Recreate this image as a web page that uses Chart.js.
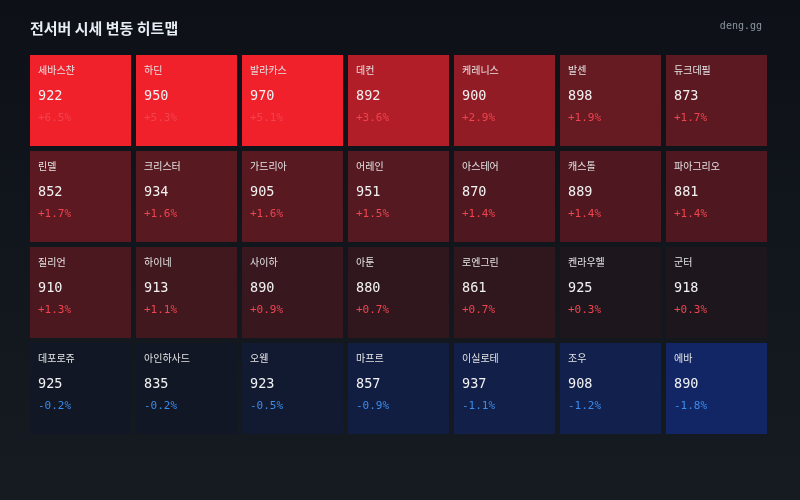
<!DOCTYPE html>
<html lang="ko">
<head>
<meta charset="utf-8">
<title>전서버 시세 변동 히트맵</title>
<script src="https://cdn.jsdelivr.net/npm/chart.js@4.4.1/dist/chart.umd.min.js"></script>
<style>
  html, body { margin: 0; padding: 0; }
  body { width: 800px; height: 500px; background: linear-gradient(180deg, #0d1117 0%, #161b22 100%); overflow: hidden; }
  .wrap { position: relative; width: 800px; height: 500px; }
</style>
</head>
<body>
<div class="wrap"><canvas id="heat"></canvas></div>
<script>
// columns per row in the grid
const columns = ['1', '2', '3', '4', '5', '6', '7'];

const servers = [
  '세바스챤', '하딘', '발라카스', '데컨', '케레니스', '발센', '듀크데필',
  '린델', '크리스터', '가드리아', '어레인', '아스테어', '캐스톨', '파아그리오',
  '질리언', '하이네', '사이하', '아툰', '로엔그린', '켄라우헬', '군터',
  '데포로쥬', '아인하사드', '오웬', '마프르', '이실로테', '조우', '에바'
];

const prices = [
  922, 950, 970, 892, 900, 898, 873,
  852, 934, 905, 951, 870, 889, 881,
  910, 913, 890, 880, 861, 925, 918,
  925, 835, 923, 857, 937, 908, 890
];

const changes = [
  6.5, 5.3, 5.1, 3.6, 2.9, 1.9, 1.7,
  1.7, 1.6, 1.6, 1.5, 1.4, 1.4, 1.4,
  1.3, 1.1, 0.9, 0.7, 0.7, 0.3, 0.3,
  -0.2, -0.2, -0.5, -0.9, -1.1, -1.2, -1.8
];

const rowCount = Math.ceil(servers.length / columns.length);

// colour scale: dark base -> red for gains, -> blue for losses
const base = [17, 21, 28];
const red = [240, 33, 43];
const blue = [18, 40, 110];
const mix = (a, b, t) => 'rgb(' + a.map((v, i) => Math.round(v + (b[i] - v) * t)).join(',') + ')';
const cellColor = (c) => c >= 0 ? mix(base, red, Math.min(c / 5, 1)) : mix(base, blue, Math.min(-c / 2, 1));

const datasets = [];
for (let r = 0; r < rowCount; r++) {
  const idx = columns.map((_, c) => r * columns.length + c);
  datasets.push({
    data: idx.map(() => [r, r + 1]),
    backgroundColor: idx.map(i => cellColor(changes[i])),
    cellIndex: idx,
    grouped: false,
    barPercentage: 1,
    categoryPercentage: 1,
    borderWidth: 0,
    inflateAmount: -2.5
  });
}

const cellText = {
  id: 'cellText',
  afterDatasetsDraw(chart) {
    const ctx = chart.ctx;
    ctx.save();
    ctx.textBaseline = 'middle';
    ctx.textAlign = 'left';
    chart.data.datasets.forEach((ds, d) => {
      chart.getDatasetMeta(d).data.forEach((bar, j) => {
        const i = ds.cellIndex[j];
        const left = bar.x - bar.width / 2 + 2.5;
        const top = Math.min(bar.y, bar.base) + 2.5;
        ctx.fillStyle = '#e4e4e4';
        ctx.font = '10px "Noto Sans CJK KR", "Noto Sans", sans-serif';
        ctx.fillText(servers[i], left + 8, top + 15);
        ctx.fillStyle = '#f2f2f2';
        ctx.font = '13.5px "DejaVu Sans Mono", monospace';
        ctx.fillText(String(prices[i]), left + 8, top + 41);
        const c = changes[i];
        ctx.fillStyle = c >= 0 ? '#f0444f' : '#3b8beb';
        ctx.font = '11px "DejaVu Sans Mono", monospace';
        ctx.fillText((c >= 0 ? '+' : '') + c.toFixed(1) + '%', left + 8, top + 63.5);
      });
    });
    ctx.restore();
  },
  afterDraw(chart) {
    const ctx = chart.ctx;
    ctx.save();
    ctx.textBaseline = 'middle';
    ctx.textAlign = 'left';
    ctx.fillStyle = '#e6edf3';
    ctx.font = 'bold 15px "Noto Sans CJK KR", sans-serif';
    ctx.fillText('전서버 시세 변동 히트맵', 30, 28);
    ctx.textAlign = 'right';
    ctx.fillStyle = '#8b949e';
    ctx.font = '10px "DejaVu Sans Mono", monospace';
    ctx.fillText('deng.gg', 762, 26);
    ctx.restore();
  }
};

new Chart(document.getElementById('heat').getContext('2d'), {
  type: 'bar',
  data: { labels: columns, datasets: datasets },
  options: {
    responsive: true,
    maintainAspectRatio: false,
    animation: false,
    events: [],
    layout: { padding: { left: 27.5, right: 30.5, top: 52.5, bottom: 63.5 } },
    plugins: { legend: { display: false }, tooltip: { enabled: false }, title: { display: false } },
    scales: {
      x: { display: false, offset: true },
      y: { display: false, min: 0, max: rowCount, reverse: true }
    }
  },
  plugins: [cellText]
});
</script>
</body>
</html>
